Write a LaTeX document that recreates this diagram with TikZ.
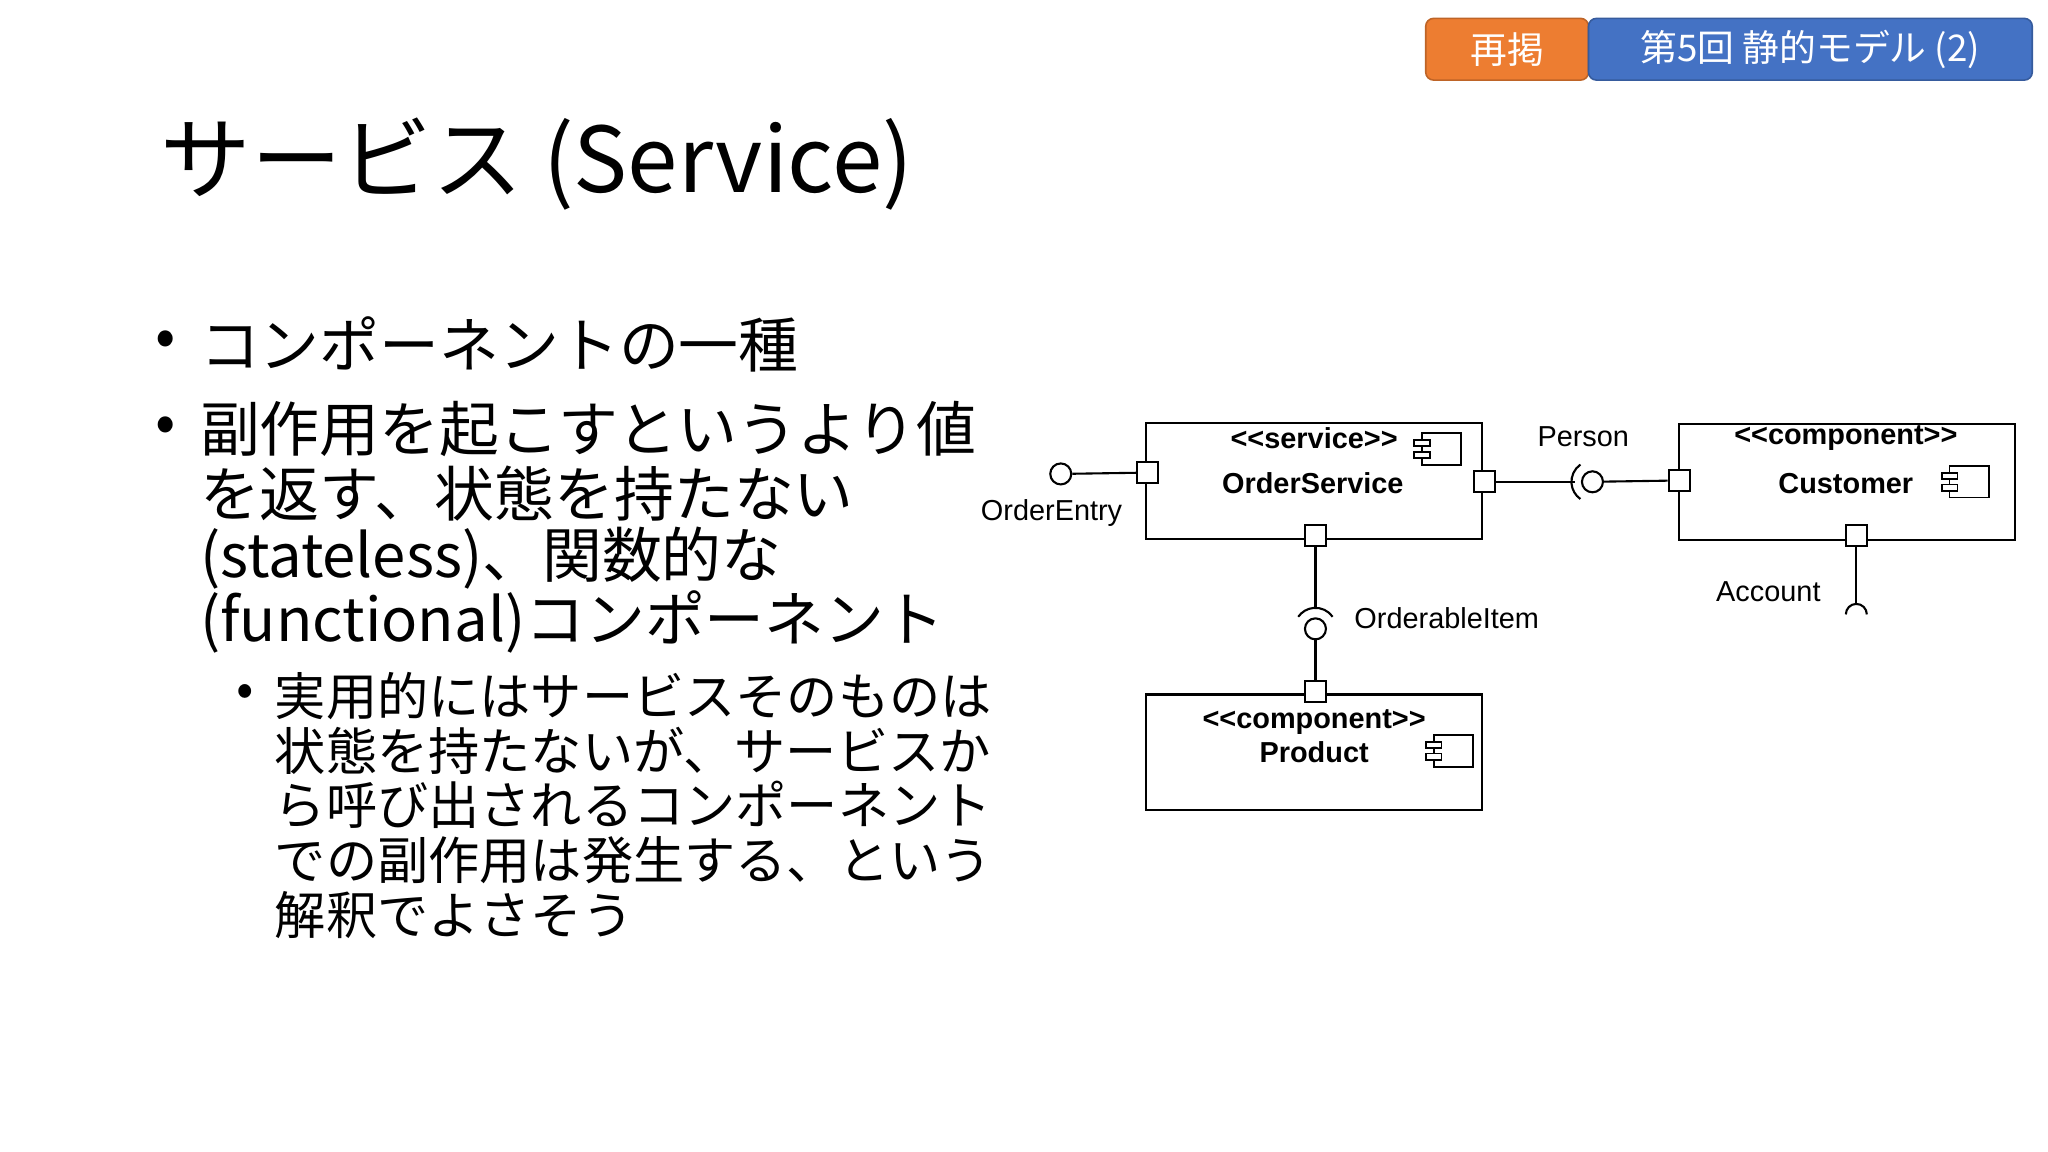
\documentclass[tikz,border=0pt]{standalone}
\usepackage{fontspec}
\setmainfont{Noto Sans CJK JP}
\newfontfamily\uml{Liberation Sans}
\definecolor{tabor}{HTML}{ED7D31}
\definecolor{tabbl}{HTML}{4472C4}
\begin{document}
\begin{tikzpicture}[x=0.5pt,y=-0.5pt,
  comp/.style={draw,line width=0.8pt,minimum width=128pt,minimum height=44pt,inner sep=0pt},
  port/.style={draw,fill=white,line width=0.8pt,minimum size=8pt,inner sep=0pt},
  ball/.style={draw,fill=white,circle,line width=0.8pt,minimum size=8pt,inner sep=0pt},
  conn/.style={line width=0.8pt},
  ulab/.style={font=\uml\fontsize{11}{12}\selectfont},
  ubold/.style={font=\uml\bfseries\fontsize{11}{12}\selectfont},
  tab/.style={draw,rounded corners=3pt,line width=0.6pt,text=white,font=\fontsize{14}{16}\selectfont,inner sep=0pt},
  jp/.style={anchor=west,inner sep=0pt,font=\fontsize{22.8}{26}\selectfont},
  jps/.style={anchor=west,inner sep=0pt,font=\fontsize{19.5}{22}\selectfont}]
\useasboundingbox (0,0) rectangle (1560,877.5);
% tabs
\node[tab,fill=tabor,draw=tabor!80!black,minimum width=62pt,minimum height=23.5pt] (t1) at (1148,37.5) {再掲};
\node[tab,fill=tabbl,draw=tabbl!80!black,minimum width=169pt,minimum height=23.5pt] (t2) at (1379,37.5) {第5回 静的モデル (2)};
% title
\node[anchor=west,inner sep=0pt,font=\fontsize{34.5}{40}\selectfont] (title) at (122,125) {サービス (Service)};
% bullets
\node[jp] (b1) at (118,262) {•};
\node[jp] (l1) at (152,262) {コンポーネントの一種};
\node[jp] (b2) at (118,327) {•};
\node[jp] (l2) at (152,327) {副作用を起こすというより値};
\node[jp] (l3) at (152,376) {を返す、状態を持たない};
\node[jp] (l4) at (152,425) {(stateless)、関数的な};
\node[jp] (l5) at (152,474) {(functional)コンポーネント};
\node[jps] (b3) at (180,530) {•};
\node[jps] (s1) at (209,530) {実用的にはサービスそのものは};
\node[jps] (s2) at (209,572) {状態を持たないが、サービスか};
\node[jps] (s3) at (209,613) {ら呼び出されるコンポーネント};
\node[jps] (s4) at (209,655) {での副作用は発生する、という};
\node[jps] (s5) at (209,697) {解釈でよさそう};
% components
\node[comp] (os) at (1001,366.5) {};
\node[comp] (cu) at (1407,367) {};
\node[comp] (pr) at (1001,573) {};
\node[ubold] at (1001,334) {<<service>>};
\node[ubold] at (1000,368) {OrderService};
\node[ubold] at (1406,334) {<<component>>};
\node[ubold] at (1406,368) {Customer};
\node[ubold] at (1001,550) {<<component>>};
\node[ubold] at (1001,573) {Product};
% component icons
\foreach \n/\cx/\cy in {i1/1097/342, i2/1499/367, i3/1106/572}{
  \draw[line width=0.7pt] (\cx-14,\cy-12) rectangle (\cx+16,\cy+12);
  \draw[line width=0.7pt,fill=white] (\cx-20,\cy-7) rectangle (\cx-8,\cy-2);
  \draw[line width=0.7pt,fill=white] (\cx-20,\cy+2) rectangle (\cx-8,\cy+7);
}
% ports
\node[port] (p1) at (874,360) {};
\node[port] (p2) at (1131,367) {};
\node[port] (p3) at (1279,366) {};
\node[port] (p4) at (1002,408) {};
\node[port] (p5) at (1002,527) {};
\node[port] (p6) at (1414,408) {};
% OrderEntry
\node[ball] (oe) at (808,361) {};
\draw[conn] (oe) -- (p1);
\node[ulab] at (801,391) {OrderEntry};
% Person
\node[ball] (pb) at (1213,367) {};
\coordinate (ps) at (1200,367);
\draw[conn] (p2) -- (ps);
\draw[conn] (pb) -- (p3);
\draw[conn] ([shift={(125:8pt)}]pb.center) arc[start angle=125,end angle=235,radius=8pt];
\node[ulab] at (1206,333) {Person};
% OrderableItem
\node[ball] (ob) at (1002,479) {};
\coordinate (os2) at (1002,463);
\draw[conn] (p4) -- (os2);
\draw[conn] ([shift={(35:8pt)}]ob.center) arc[start angle=35,end angle=145,radius=8pt];
\draw[conn] (ob) -- (p5);
\node[ulab] at (1102,471) {OrderableItem};
% Account
\coordinate (ac) at (1414,468);
\coordinate (act) at (1414,460);
\draw[conn] (p6) -- (act);
\draw[conn] ([shift={(0:4pt)}]ac) arc[start angle=0,end angle=180,radius=4pt];
\node[ulab] at (1347,451) {Account};
\end{tikzpicture}
\end{document}
